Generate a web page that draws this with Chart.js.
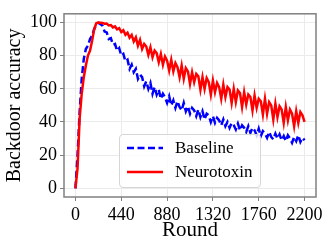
<!DOCTYPE html>
<html>
<head>
<meta charset="utf-8">
<script src="https://cdn.jsdelivr.net/npm/chart.js@4/dist/chart.umd.min.js"></script>
<style>
  html, body { margin: 0; padding: 0; background: #fff; }
  #wrap { position: relative; width: 332px; height: 249px; }
  #legend {
    position: absolute; left: 119px; top: 134px; width: 140px; height: 52px;
    background: rgba(255,255,255,0.8); border: 1px solid #d6d6d6; border-radius: 4px;
    font-family: "Liberation Serif", serif; font-size: 17px; color: #000;
  }
  #legend .row { position: absolute; left: 0; height: 20px; line-height: 20px; }
  #legend svg { position: absolute; left: 6px; top: 4px; }
  #legend span { position: absolute; left: 55px; top: 0; white-space: nowrap; }
</style>
</head>
<body>
<div id="wrap">
  <canvas id="backdoorChart" width="332" height="249"></canvas>
  <div id="legend">
    <div class="row" style="top:3px">
      <svg width="38" height="12"><line x1="1" y1="6" x2="37" y2="6" stroke="#0000ff" stroke-width="2.5" stroke-dasharray="7,3.5"/></svg>
      <span>Baseline</span>
    </div>
    <div class="row" style="top:27px">
      <svg width="38" height="12"><line x1="1" y1="6" x2="37" y2="6" stroke="#ff0000" stroke-width="2.5"/></svg>
      <span>Neurotoxin</span>
    </div>
  </div>
</div>
<script>
var rounds = [0,20,40,60,80,100,120,140,160,180,200,220,240,260,280,300,320,340,360,380,
  400,420,440,460,480,500,520,540,560,580,600,620,640,660,680,700,720,740,760,780,
  800,820,840,860,880,900,920,940,960,980,1000,1020,1040,1060,1080,1100,1120,1140,1160,1180,
  1200,1220,1240,1260,1280,1300,1320,1340,1360,1380,1400,1420,1440,1460,1480,1500,1520,1540,1560,1580,
  1600,1620,1640,1660,1680,1700,1720,1740,1760,1780,1800,1820,1840,1860,1880,1900,1920,1940,1960,1980,
  2000,2020,2040,2060,2080,2100,2120,2140,2160,2180,2200];

var baseline = [0,20,46,66,78,84,86,90,92,96,98.5,99.8,99,98,94.5,94,90,90.5,86.5,87,
  83,84.5,80,81,76.5,77.5,72,74.5,70,72,66,68.5,67,61.5,64.5,60,63.5,57,61,56.5,
  59.5,54,57,55,51.5,55.5,50,53,48.5,52.5,49,47,51.5,46.5,49.5,45,48.5,47,43.5,47.5,
  43,46.5,41.5,45,44,40,43.5,39.5,42.5,41,38,41.5,37.5,40,36.5,39.5,38,35.5,39,35,
  38,36.5,34,37.5,33.5,36.5,35,32,36,31.5,34.5,33,30.5,34,31,29.5,33,30,32.5,29,
  31.5,28.5,32,30,27.5,31,28.5,32,28,30.5,29];

var neurotoxin = [0,12,42,57,67,74,80,83,89,96,99.5,100,99.8,99.6,99.2,99.3,98.2,98.4,97,97.6,
  95.8,96.5,94.2,95.3,92.5,93.8,90.8,92.5,88.5,91,86,89.5,84,87,85.5,80.5,85,79,83,81.5,
  76,81,74.5,79.5,77,71,77.5,70.5,75.5,73,67,74,66,72.5,70.5,63,70,64,69,67.5,
  59.5,67,60,66.5,64,56.5,65,58,63.5,61,54,62.5,55,61,59.5,51.5,60,52,59,57.5,
  49,58,50.5,56.5,55,47,56,48.5,54,52.5,44.5,54,45,52,50,41.5,51,43,49.5,47.5,
  39.5,49,41,47.5,45,37.5,46.5,39.5,46,44,40];

var yTicks = [0,20,40,60,80,100];
var xTicks = [0,440,880,1320,1760,2200];

function toPoints(vals) {
  var pts = [];
  for (var i = 0; i < rounds.length; i++) pts.push({x: rounds[i], y: vals[i]});
  return pts;
}

var serif = '"Liberation Serif", "Times New Roman", serif';
Chart.defaults.font.family = serif;

// gray frame round the plot area
var frame = {
  id: 'frame',
  afterDatasetsDraw: function(chart) {
    var a = chart.chartArea, c = chart.ctx;
    c.save();
    c.strokeStyle = '#808080';
    c.lineWidth = 1.5;
    c.strokeRect(a.left, a.top, a.right - a.left, a.bottom - a.top);
    c.restore();
  }
};

var ctx = document.getElementById('backdoorChart').getContext('2d');
var chart = new Chart(ctx, {
  type: 'line',
  data: {
    datasets: [{
      label: 'Neurotoxin',
      data: toPoints(neurotoxin),
      borderColor: '#ff0000',
      borderWidth: 2.5,
      pointRadius: 0,
      tension: 0,
      order: 0
    }, {
      label: 'Baseline',
      data: toPoints(baseline),
      borderColor: '#0000ff',
      borderWidth: 2.5,
      borderDash: [7, 3.5],
      pointRadius: 0,
      tension: 0,
      order: 1
    }]
  },
  options: {
    responsive: false,
    animation: false,
    layout: {padding: {top: 7, right: 16, left: 0, bottom: 0}},
    plugins: {legend: {display: false}, tooltip: {enabled: false}},
    scales: {
      x: {
        type: 'linear',
        min: -110, max: 2310,
        afterBuildTicks: function(s) { s.ticks = xTicks.map(function(v) { return {value: v}; }); },
        afterFit: function(s) { s.height = 52; },
        ticks: {font: {family: serif, size: 18}, color: '#000', padding: 3, maxRotation: 0,
          callback: function(v) { return String(v); }},
        grid: {color: '#ebebeb', lineWidth: 1, tickLength: 4, tickColor: '#808080'},
        border: {display: false},
        title: {display: true, text: 'Round', font: {family: serif, size: 21}, color: '#000', padding: {top: 0, bottom: 6}}
      },
      y: {
        min: -5.2, max: 105.2,
        afterBuildTicks: function(s) { s.ticks = yTicks.map(function(v) { return {value: v}; }); },
        afterFit: function(s) { s.width = 64; },
        ticks: {font: {family: serif, size: 18}, color: '#000', padding: 3,
          callback: function(v) { return String(v); }},
        grid: {color: '#ebebeb', lineWidth: 1, tickLength: 4, tickColor: '#808080'},
        border: {display: false},
        title: {display: true, text: 'Backdoor accuracy', font: {family: serif, size: 20}, color: '#000', padding: {top: 3, bottom: 0}}
      }
    }
  },
  plugins: [frame]
});
</script>
</body>
</html>
